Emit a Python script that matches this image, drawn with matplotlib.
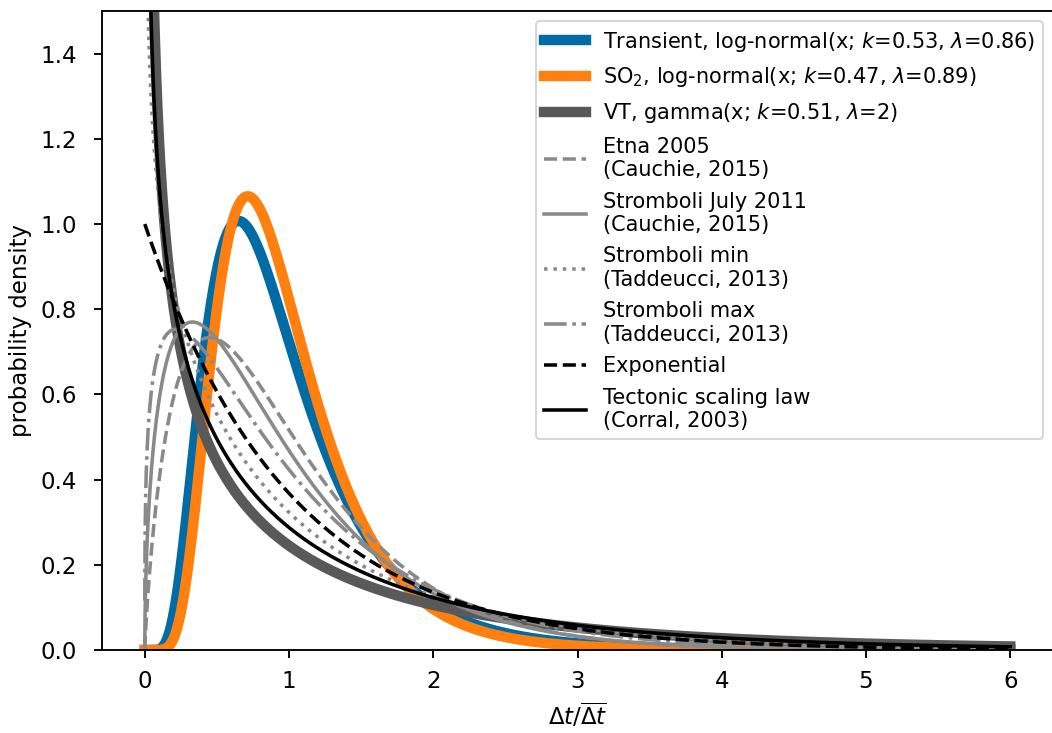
import math
import numpy as np
import matplotlib
matplotlib.use("Agg")
import matplotlib.pyplot as plt

# log-normal fits (k = sigma, lambda = median), values from the legend
lognorm_labels = ["Transient, log-normal(x; $k$=0.53, $\\lambda$=0.86)",
                  "SO$_2$, log-normal(x; $k$=0.47, $\\lambda$=0.89)"]
lognorm_k = [0.53, 0.47]
lognorm_lam = [0.86, 0.89]

# VT gamma fit (shape k, scale lambda), from the legend
vt_label = "VT, gamma(x; $k$=0.51, $\\lambda$=2)"
vt_k = 0.51
vt_lam = 2.0

# published volcano distributions, gamma shape / scale
ref_labels = ["Etna 2005\n(Cauchie, 2015)",
              "Stromboli July 2011\n(Cauchie, 2015)",
              "Stromboli min\n(Taddeucci, 2013)",
              "Stromboli max\n(Taddeucci, 2013)"]
ref_k = [1.83, 1.54, 0.80, 1.28]
ref_theta = [0.542, 0.611, 1.25, 0.78]
ref_styles = ["--", "-", ":", "-."]

# tectonic scaling law (Corral, 2003): generalized gamma
corral_gamma = 0.67
corral_delta = 0.98
corral_a = 1.58

x = np.linspace(1e-4, 6, 3000)


def lognormal_pdf(x, k, lam):
    return np.exp(-(np.log(x / lam)) ** 2 / (2 * k ** 2)) / (x * k * np.sqrt(2 * np.pi))


def gamma_pdf(x, k, theta):
    return x ** (k - 1) * np.exp(-x / theta) / (math.gamma(k) * theta ** k)


def corral_pdf(x, g, d, a):
    return d / (a * math.gamma(g / d)) * (x / a) ** (g - 1) * np.exp(-(x / a) ** d)


fig = plt.figure(figsize=(1052 / 150, 733 / 150), dpi=150)
ax = fig.add_axes([101.5 / 1052, 1 - 650 / 733, 952 / 1052, (650 - 11) / 733])

thick_colors = ["#006BA4", "#FF800E"]
for lab, k, lam, c in zip(lognorm_labels, lognorm_k, lognorm_lam, thick_colors):
    ax.plot(x, lognormal_pdf(x, k, lam), color=c, lw=5, label=lab)
ax.plot(x, gamma_pdf(x, vt_k, vt_lam), color="#595959", lw=5, label=vt_label)

for lab, k, th, ls in zip(ref_labels, ref_k, ref_theta, ref_styles):
    ax.plot(x, gamma_pdf(x, k, th), color="#898989", lw=1.7, ls=ls, label=lab)

ax.plot(x, np.exp(-x), "k--", lw=1.7, label="Exponential")
ax.plot(x, corral_pdf(x, corral_gamma, corral_delta, corral_a), "k-", lw=1.7,
        label="Tectonic scaling law\n(Corral, 2003)")

ax.set_xlim(-0.3, 6.3)
ax.set_ylim(0, 1.5)
ax.set_xlabel("$\\Delta t/\\overline{\\Delta t}$", fontsize=11)
ax.set_ylabel("probability density", fontsize=11)
ax.tick_params(axis="both", labelsize=11, length=4, width=0.9)
ax.tick_params(axis="x", pad=5.5)
ax.tick_params(axis="y", pad=8)
for sp in ax.spines.values():
    sp.set_linewidth(0.9)
ax.legend(loc="upper right", fontsize=10, labelspacing=0.56)

fig.savefig("out.png", dpi=150)
